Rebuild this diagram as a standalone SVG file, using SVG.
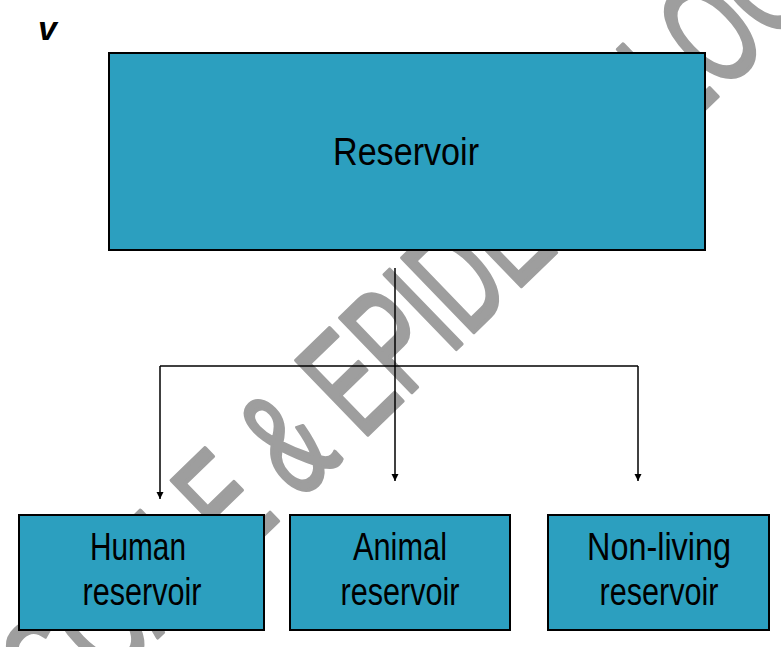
<svg xmlns="http://www.w3.org/2000/svg" width="781" height="647" viewBox="0 0 781 647">
<style>
.box{fill:#2c9fbf;stroke:#000;stroke-width:2}
.lbl{font-family:"Liberation Sans",Arial,sans-serif;font-size:39px;fill:#000;text-anchor:middle}
.con{stroke:#000;stroke-width:1.5;fill:none}
.wm{font-family:"Liberation Sans",Arial,sans-serif;font-size:150px;fill:#9e9e9e;stroke:#9e9e9e;stroke-width:4;stroke-linejoin:round;stroke-linecap:round}
</style>
<defs>
<marker id="arr" viewBox="0 0 10 10" refX="10" refY="5" markerWidth="7" markerHeight="8" markerUnits="userSpaceOnUse" orient="auto">
<path d="M0,0 L10,5 L0,10 z" fill="#000"/>
</marker>
</defs>
<rect width="781" height="647" fill="#fff"/>
<g id="watermark" transform="translate(300,500) rotate(-44) scale(0.61,1)">
<text class="wm" x="-534" y="0">SCALE &amp; EPIDEMIOLOGY</text>
</g>
<text x="38" y="40" font-family="Liberation Sans,Arial,sans-serif" font-size="34" font-weight="bold" font-style="italic">v</text>
<g id="connectors">
<line class="con" x1="395" y1="268" x2="395" y2="481" marker-end="url(#arr)"/>
<line class="con" x1="160" y1="366" x2="638" y2="366"/>
<line class="con" x1="160" y1="366" x2="160" y2="499" marker-end="url(#arr)"/>
<line class="con" x1="638" y1="366" x2="638" y2="481" marker-end="url(#arr)"/>
</g>
<g id="reservoir">
<rect class="box" x="109" y="53" width="596" height="197"/>
<text class="lbl" x="406" y="165" font-size="47" textLength="146" lengthAdjust="spacingAndGlyphs">Reservoir</text>
</g>
<g id="human">
<rect class="box" x="19" y="515" width="245" height="115"/>
<text class="lbl" x="138" y="560" textLength="96" lengthAdjust="spacingAndGlyphs">Human</text>
<text class="lbl" x="142" y="605" textLength="119" lengthAdjust="spacingAndGlyphs">reservoir</text>
</g>
<g id="animal">
<rect class="box" x="290" y="515" width="220" height="115"/>
<text class="lbl" x="400" y="560" textLength="94" lengthAdjust="spacingAndGlyphs">Animal</text>
<text class="lbl" x="400" y="605" textLength="119" lengthAdjust="spacingAndGlyphs">reservoir</text>
</g>
<g id="nonliving">
<rect class="box" x="548" y="515" width="221" height="115"/>
<text class="lbl" x="659" y="560" textLength="144" lengthAdjust="spacingAndGlyphs">Non-living</text>
<text class="lbl" x="659" y="605" textLength="119" lengthAdjust="spacingAndGlyphs">reservoir</text>
</g>
</svg>
